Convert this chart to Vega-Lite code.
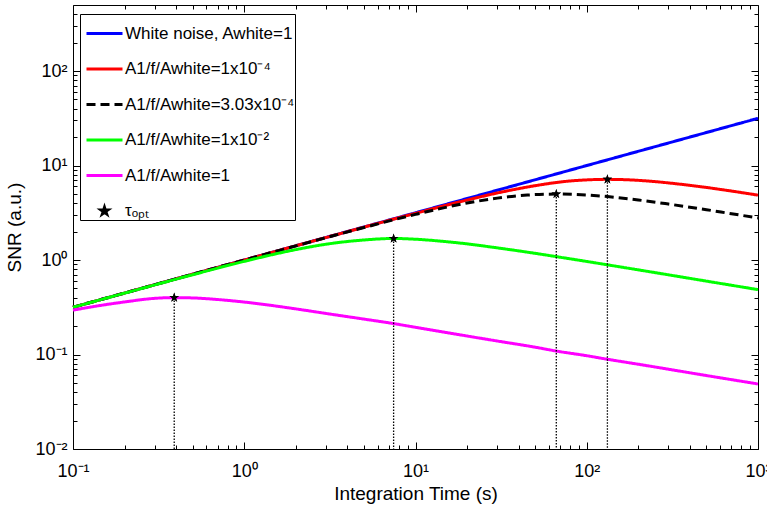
{
  "$schema": "https://vega.github.io/schema/vega-lite/v6.json",
  "width": 685,
  "height": 444,
  "autosize": {"type": "none"},
  "padding": {"left": 73, "top": 5, "right": 9, "bottom": 59},
  "background": "white",
  "config": {
    "view": {"stroke": "black", "strokeWidth": 1},
    "font": "Liberation Sans",
    "axis": {"domain": false, "grid": false, "tickColor": "black", "tickWidth": 1, "labelColor": "black", "titleColor": "black", "labelFont": "Liberation Sans", "titleFont": "Liberation Sans", "titleFontWeight": "normal", "labelFontSize": 18, "titleFontSize": 19, "labelOverlap": false, "labelFlush": false, "labelBound": false}
  },
  "datasets": {
    "curves": [
      {"series": "White noise, Awhite=1", "t": 0.1, "snr": 0.3162},
      {"series": "White noise, Awhite=1", "t": 1, "snr": 1},
      {"series": "White noise, Awhite=1", "t": 10, "snr": 3.162},
      {"series": "White noise, Awhite=1", "t": 100, "snr": 10},
      {"series": "White noise, Awhite=1", "t": 1000, "snr": 31.62},
      {"series": "A1/f/Awhite=1x10⁻⁴", "t": 0.1, "snr": 0.316},
      {"series": "A1/f/Awhite=1x10⁻⁴", "t": 1, "snr": 1.0},
      {"series": "A1/f/Awhite=1x10⁻⁴", "t": 3, "snr": 1.73},
      {"series": "A1/f/Awhite=1x10⁻⁴", "t": 10, "snr": 3.12},
      {"series": "A1/f/Awhite=1x10⁻⁴", "t": 20, "snr": 4.31},
      {"series": "A1/f/Awhite=1x10⁻⁴", "t": 30, "snr": 5.12},
      {"series": "A1/f/Awhite=1x10⁻⁴", "t": 50, "snr": 6.12},
      {"series": "A1/f/Awhite=1x10⁻⁴", "t": 75, "snr": 6.79},
      {"series": "A1/f/Awhite=1x10⁻⁴", "t": 100, "snr": 7.05},
      {"series": "A1/f/Awhite=1x10⁻⁴", "t": 132, "snr": 7.14},
      {"series": "A1/f/Awhite=1x10⁻⁴", "t": 175, "snr": 7.06},
      {"series": "A1/f/Awhite=1x10⁻⁴", "t": 250, "snr": 6.76},
      {"series": "A1/f/Awhite=1x10⁻⁴", "t": 350, "snr": 6.35},
      {"series": "A1/f/Awhite=1x10⁻⁴", "t": 500, "snr": 5.86},
      {"series": "A1/f/Awhite=1x10⁻⁴", "t": 700, "snr": 5.37},
      {"series": "A1/f/Awhite=1x10⁻⁴", "t": 1000, "snr": 4.86},
      {"series": "A1/f/Awhite=3.03x10⁻⁴", "t": 0.1, "snr": 0.316},
      {"series": "A1/f/Awhite=3.03x10⁻⁴", "t": 1, "snr": 1.0},
      {"series": "A1/f/Awhite=3.03x10⁻⁴", "t": 3, "snr": 1.722},
      {"series": "A1/f/Awhite=3.03x10⁻⁴", "t": 5, "snr": 2.207},
      {"series": "A1/f/Awhite=3.03x10⁻⁴", "t": 10, "snr": 3.04},
      {"series": "A1/f/Awhite=3.03x10⁻⁴", "t": 20, "snr": 4.01},
      {"series": "A1/f/Awhite=3.03x10⁻⁴", "t": 30, "snr": 4.52},
      {"series": "A1/f/Awhite=3.03x10⁻⁴", "t": 45, "snr": 4.87},
      {"series": "A1/f/Awhite=3.03x10⁻⁴", "t": 66.4, "snr": 4.99},
      {"series": "A1/f/Awhite=3.03x10⁻⁴", "t": 100, "snr": 4.875},
      {"series": "A1/f/Awhite=3.03x10⁻⁴", "t": 132, "snr": 4.69},
      {"series": "A1/f/Awhite=3.03x10⁻⁴", "t": 200, "snr": 4.32},
      {"series": "A1/f/Awhite=3.03x10⁻⁴", "t": 300, "snr": 3.91},
      {"series": "A1/f/Awhite=3.03x10⁻⁴", "t": 500, "snr": 3.41},
      {"series": "A1/f/Awhite=3.03x10⁻⁴", "t": 700, "snr": 3.09},
      {"series": "A1/f/Awhite=3.03x10⁻⁴", "t": 1000, "snr": 2.79},
      {"series": "A1/f/Awhite=1x10⁻²", "t": 0.1, "snr": 0.316},
      {"series": "A1/f/Awhite=1x10⁻²", "t": 0.2, "snr": 0.446},
      {"series": "A1/f/Awhite=1x10⁻²", "t": 0.5, "snr": 0.699},
      {"series": "A1/f/Awhite=1x10⁻²", "t": 1, "snr": 0.968},
      {"series": "A1/f/Awhite=1x10⁻²", "t": 2, "snr": 1.289},
      {"series": "A1/f/Awhite=1x10⁻²", "t": 3, "snr": 1.469},
      {"series": "A1/f/Awhite=1x10⁻²", "t": 5, "snr": 1.63},
      {"series": "A1/f/Awhite=1x10⁻²", "t": 7.45, "snr": 1.69},
      {"series": "A1/f/Awhite=1x10⁻²", "t": 10, "snr": 1.66},
      {"series": "A1/f/Awhite=1x10⁻²", "t": 15, "snr": 1.566},
      {"series": "A1/f/Awhite=1x10⁻²", "t": 20, "snr": 1.483},
      {"series": "A1/f/Awhite=1x10⁻²", "t": 30, "snr": 1.345},
      {"series": "A1/f/Awhite=1x10⁻²", "t": 50, "snr": 1.177},
      {"series": "A1/f/Awhite=1x10⁻²", "t": 66, "snr": 1.088},
      {"series": "A1/f/Awhite=1x10⁻²", "t": 100, "snr": 0.966},
      {"series": "A1/f/Awhite=1x10⁻²", "t": 130, "snr": 0.894},
      {"series": "A1/f/Awhite=1x10⁻²", "t": 200, "snr": 0.787},
      {"series": "A1/f/Awhite=1x10⁻²", "t": 500, "snr": 0.598},
      {"series": "A1/f/Awhite=1x10⁻²", "t": 1000, "snr": 0.486},
      {"series": "A1/f/Awhite=1", "t": 0.1, "snr": 0.295},
      {"series": "A1/f/Awhite=1", "t": 0.15, "snr": 0.334},
      {"series": "A1/f/Awhite=1", "t": 0.2, "snr": 0.36},
      {"series": "A1/f/Awhite=1", "t": 0.3, "snr": 0.393},
      {"series": "A1/f/Awhite=1", "t": 0.39, "snr": 0.40},
      {"series": "A1/f/Awhite=1", "t": 0.5, "snr": 0.397},
      {"series": "A1/f/Awhite=1", "t": 0.7, "snr": 0.382},
      {"series": "A1/f/Awhite=1", "t": 1, "snr": 0.359},
      {"series": "A1/f/Awhite=1", "t": 2, "snr": 0.304},
      {"series": "A1/f/Awhite=1", "t": 3, "snr": 0.272},
      {"series": "A1/f/Awhite=1", "t": 5, "snr": 0.237},
      {"series": "A1/f/Awhite=1", "t": 7.4, "snr": 0.213},
      {"series": "A1/f/Awhite=1", "t": 10, "snr": 0.194},
      {"series": "A1/f/Awhite=1", "t": 20, "snr": 0.157},
      {"series": "A1/f/Awhite=1", "t": 30, "snr": 0.139},
      {"series": "A1/f/Awhite=1", "t": 50, "snr": 0.1195},
      {"series": "A1/f/Awhite=1", "t": 66, "snr": 0.109},
      {"series": "A1/f/Awhite=1", "t": 100, "snr": 0.0971},
      {"series": "A1/f/Awhite=1", "t": 130, "snr": 0.0895},
      {"series": "A1/f/Awhite=1", "t": 200, "snr": 0.0789},
      {"series": "A1/f/Awhite=1", "t": 500, "snr": 0.0599},
      {"series": "A1/f/Awhite=1", "t": 1000, "snr": 0.0488}
    ],
    "peaks": [
      {"series": "τₒₚₜ", "t": 0.39, "snr": 0.40},
      {"series": "τₒₚₜ", "t": 7.45, "snr": 1.69},
      {"series": "τₒₚₜ", "t": 66.4, "snr": 4.99},
      {"series": "τₒₚₜ", "t": 132, "snr": 7.14}
    ]
  },
  "resolve": {"axis": {"x": "independent", "y": "independent"}},
  "layer": [
    {
      "data": {"name": "curves"},
      "mark": {"type": "line", "strokeWidth": 3, "interpolate": "monotone"},
      "encoding": {
        "x": {"field": "t", "type": "quantitative",
          "scale": {"type": "log", "domain": [0.1, 1000], "nice": false},
          "axis": {"orient": "bottom", "title": "Integration Time (s)", "offset": -7, "tickSize": 7,
            "values": [0.1, 1, 10, 100, 1000],
            "labelExpr": "datum.value==0.1?'10⁻¹':datum.value==1?'10⁰':datum.value==10?'10¹':datum.value==100?'10²':datum.value==1000?'10³':''",
            "labelPadding": 13, "titlePadding": 4}},
        "y": {"field": "snr", "type": "quantitative",
          "scale": {"type": "log", "domain": [0.01, 500], "nice": false},
          "axis": {"orient": "left", "title": "SNR (a.u.)", "offset": -7, "tickSize": 7,
            "values": [0.01, 0.1, 1, 10, 100],
            "labelExpr": "datum.value==0.01?'10⁻²':datum.value==0.1?'10⁻¹':datum.value==1?'10⁰':datum.value==10?'10¹':datum.value==100?'10²':''",
            "labelPadding": 6, "titlePadding": 10}},
        "color": {"field": "series", "type": "nominal",
          "scale": {"domain": ["White noise, Awhite=1", "A1/f/Awhite=1x10⁻⁴", "A1/f/Awhite=3.03x10⁻⁴", "A1/f/Awhite=1x10⁻²", "A1/f/Awhite=1", "τₒₚₜ"],
            "range": ["#0000ff", "#ff0000", "#000000", "#00ff00", "#ff00ff", "#000000"]},
          "legend": {"orient": "none", "legendX": 7, "legendY": 9, "title": null, "strokeColor": "black", "fillColor": "white", "padding": 0, "symbolSize": 1296, "symbolStrokeWidth": 3, "symbolOffset": 5, "labelFontSize": 17, "labelFont": "Liberation Sans", "labelColor": "black", "labelOffset": 1, "rowPadding": 7.5, "labelLimit": 400}},
        "strokeDash": {"field": "series", "type": "nominal",
          "scale": {"domain": ["White noise, Awhite=1", "A1/f/Awhite=1x10⁻⁴", "A1/f/Awhite=3.03x10⁻⁴", "A1/f/Awhite=1x10⁻²", "A1/f/Awhite=1", "τₒₚₜ"],
            "range": [[1,0],[1,0],[9,5],[1,0],[1,0],[1,0]]},
          "legend": {"orient": "none", "legendX": 7, "legendY": 9, "title": null}},
        "order": {"field": "t", "type": "quantitative"}
      }
    },
    {
      "data": {"name": "peaks"},
      "mark": {"type": "rule", "color": "black", "strokeWidth": 1.3, "strokeDash": [1.5, 1.5]},
      "encoding": {
        "x": {"field": "t", "type": "quantitative",
          "axis": {"orient": "top", "title": null, "labels": false, "offset": -7, "tickSize": 7,
            "values": [0.1, 1, 10, 100, 1000]}},
        "y": {"field": "snr", "type": "quantitative",
          "axis": {"orient": "right", "title": null, "labels": false, "offset": -7, "tickSize": 7,
            "values": [0.01, 0.1, 1, 10, 100]}},
        "y2": {"datum": 0.01}
      }
    },
    {
      "data": {"name": "peaks"},
      "mark": {"type": "point", "filled": true, "size": 2500, "opacity": 1},
      "encoding": {
        "x": {"field": "t", "type": "quantitative",
          "axis": {"orient": "bottom", "title": null, "labels": false, "offset": -4, "tickSize": 4,
            "values": [0.2,0.3,0.4,0.5,0.6,0.7,0.8,0.9,2,3,4,5,6,7,8,9,20,30,40,50,60,70,80,90,200,300,400,500,600,700,800,900]}},
        "y": {"field": "snr", "type": "quantitative",
          "axis": {"orient": "left", "title": null, "labels": false, "offset": -4, "tickSize": 4,
            "values": [0.02,0.03,0.04,0.05,0.06,0.07,0.08,0.09,0.2,0.3,0.4,0.5,0.6,0.7,0.8,0.9,2,3,4,5,6,7,8,9,20,30,40,50,60,70,80,90,200,300,400]}},
        "color": {"field": "series", "type": "nominal"},
        "shape": {"field": "series", "type": "nominal",
          "scale": {"domain": ["White noise, Awhite=1", "A1/f/Awhite=1x10⁻⁴", "A1/f/Awhite=3.03x10⁻⁴", "A1/f/Awhite=1x10⁻²", "A1/f/Awhite=1", "τₒₚₜ"],
            "range": ["stroke", "stroke", "stroke", "stroke", "stroke", "M0,-0.2L0.045,-0.062L0.19,-0.062L0.073,0.024L0.118,0.162L0,0.077L-0.118,0.162L-0.073,0.024L-0.19,-0.062L-0.045,-0.062Z"]},
          "legend": {"orient": "none", "legendX": 7, "legendY": 9, "title": null}}
      }
    },
    {
      "data": {"name": "peaks"},
      "mark": {"type": "point", "filled": true, "size": 2500, "opacity": 1, "color": "black", "shape": "M0,-0.2L0.045,-0.062L0.19,-0.062L0.073,0.024L0.118,0.162L0,0.077L-0.118,0.162L-0.073,0.024L-0.19,-0.062L-0.045,-0.062Z"},
      "encoding": {
        "x": {"field": "t", "type": "quantitative",
          "axis": {"orient": "top", "title": null, "labels": false, "offset": -4, "tickSize": 4,
            "values": [0.2,0.3,0.4,0.5,0.6,0.7,0.8,0.9,2,3,4,5,6,7,8,9,20,30,40,50,60,70,80,90,200,300,400,500,600,700,800,900]}},
        "y": {"field": "snr", "type": "quantitative",
          "axis": {"orient": "right", "title": null, "labels": false, "offset": -4, "tickSize": 4,
            "values": [0.02,0.03,0.04,0.05,0.06,0.07,0.08,0.09,0.2,0.3,0.4,0.5,0.6,0.7,0.8,0.9,2,3,4,5,6,7,8,9,20,30,40,50,60,70,80,90,200,300,400]}}
      }
    }
  ]
}
